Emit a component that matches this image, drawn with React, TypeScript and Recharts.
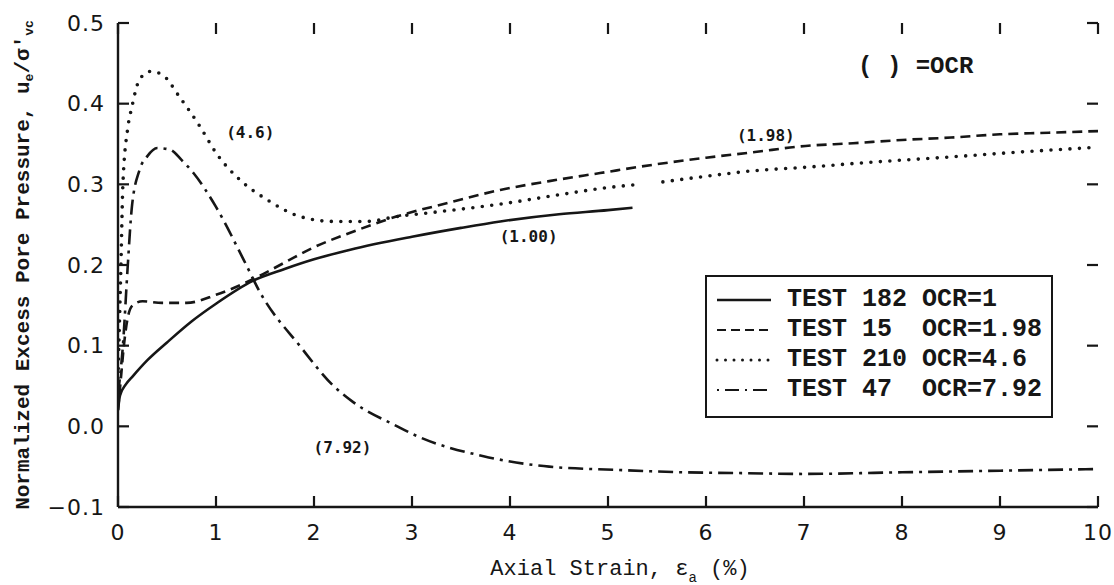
import React from 'react';
import { ComposedChart, Line, XAxis, YAxis, Legend, ReferenceDot, ReferenceLine } from 'recharts';

// ---------- axis ticks ----------
const xTicks = [0, 1, 2, 3, 4, 5, 6, 7, 8, 9, 10];
const yTicks = [-0.1, 0, 0.1, 0.2, 0.3, 0.4, 0.5];

// ---------- series: axial strain (%) and normalized excess pore pressure ----------
const test182Strain = [0, 0.02, 0.08, 0.15, 0.3, 0.5, 0.75, 1.0, 1.37, 1.7, 2.0, 2.37, 3.0, 3.5, 3.9, 4.5, 5.0, 5.25];
const test182Pu = [0.02, 0.038, 0.052, 0.062, 0.082, 0.104, 0.13, 0.152, 0.18, 0.195, 0.207, 0.219, 0.235, 0.246, 0.254, 0.263, 0.268, 0.271];

const test15Strain = [0, 0.03, 0.06, 0.1, 0.15, 0.25, 0.45, 0.7, 1.0, 1.37, 1.7, 2.0, 2.37, 2.84, 3.4, 3.9, 4.4, 4.92, 5.5, 6.0, 6.5, 6.96, 7.5, 8.0, 8.5, 9.0, 9.5, 10.0];
const test15Pu = [0.02, 0.06, 0.1, 0.135, 0.15, 0.155, 0.153, 0.153, 0.163, 0.182, 0.203, 0.222, 0.24, 0.26, 0.278, 0.293, 0.304, 0.314, 0.325, 0.333, 0.34, 0.347, 0.351, 0.355, 0.358, 0.362, 0.364, 0.366];

const test210Strain = [0, 0.03, 0.05, 0.1, 0.14, 0.22, 0.33, 0.45, 0.63, 0.84, 1.0, 1.24, 1.52, 1.86, 2.2, 2.54, 2.84, 3.2, 3.93, 4.5, 5.0, 5.33, 5.45, 5.56, 6.0, 6.5, 7.0, 7.64, 8.5, 9.2, 10.0];
const test210Pu = [0.06, 0.2, 0.3, 0.37, 0.395, 0.43, 0.44, 0.436, 0.408, 0.371, 0.339, 0.306, 0.281, 0.26, 0.254, 0.254, 0.26, 0.265, 0.276, 0.287, 0.296, 0.3, null, 0.303, 0.31, 0.317, 0.321, 0.327, 0.334, 0.34, 0.346];

const test47Strain = [0, 0.05, 0.1, 0.14, 0.22, 0.3, 0.4, 0.53, 0.65, 0.77, 1.0, 1.28, 1.45, 1.86, 2.2, 2.4, 2.85, 3.05, 3.73, 4.4, 5.09, 5.77, 6.38, 7.0, 8.0, 9.0, 10.0];
const test47Pu = [0.04, 0.1, 0.2, 0.27, 0.318, 0.335, 0.345, 0.343, 0.33, 0.314, 0.272, 0.207, 0.166, 0.099, 0.05, 0.03, 0.0, -0.012, -0.037, -0.05, -0.054, -0.057, -0.058, -0.059, -0.057, -0.055, -0.053];

// ---------- legend / annotation text ----------
const seriesNames = ['TEST 182 OCR=1', 'TEST 15  OCR=1.98', 'TEST 210 OCR=4.6', 'TEST 47  OCR=7.92'];
const annotations = [
  { x: 1.35, y: 0.364, text: '(4.6)' },
  { x: 6.61, y: 0.361, text: '(1.98)' },
  { x: 4.19, y: 0.235, text: '(1.00)' },
  { x: 2.29, y: -0.026, text: '(7.92)' },
];
const ocrNote = { x: 8.14, y: 0.446, text: '( ) =OCR' };

const zip = (xs: number[], ys: (number | null)[]) => xs.map((x, i) => ({ x, y: ys[i] }));

const INK = '#161616';
const X_MIN = 0, X_MAX = 10, Y_MIN = -0.1, Y_MAX = 0.5;

const series = [
  { name: seriesNames[0], data: zip(test182Strain, test182Pu), dash: undefined as string | undefined, width: 2.6, cap: 'butt' },
  { name: seriesNames[1], data: zip(test15Strain, test15Pu), dash: '10 6', width: 2.6, cap: 'butt' },
  { name: seriesNames[2], data: zip(test210Strain, test210Pu), dash: '0 9.5', width: 3.6, cap: 'round' },
  { name: seriesNames[3], data: zip(test47Strain, test47Pu), dash: '15 6 3 6', width: 2.6, cap: 'butt' },
];

const legendSample: Record<string, { dash?: string; width: number; cap: string }> = {
  [seriesNames[0]]: { dash: undefined, width: 2.6, cap: 'butt' },
  [seriesNames[1]]: { dash: '9 5', width: 2.2, cap: 'butt' },
  [seriesNames[2]]: { dash: '0 8.5', width: 3, cap: 'round' },
  [seriesNames[3]]: { dash: '2 6 14 6', width: 2.2, cap: 'butt' },
};

const fmtY = (v: number) => v.toFixed(1).replace('-', '\u2212');

const TICK_LEN = 11;
const TICK_W = 2.2;
const tickFont = { fontFamily: 'DejaVu Sans', fontSize: 22, fill: INK, letterSpacing: 1 };

// inward tick marks at both ends of a full-height / full-width reference line
const VerticalTickPair = (p: any) => {
  const x = p.x1 as number;
  const top = Math.min(p.y1, p.y2);
  const bottom = Math.max(p.y1, p.y2);
  return (
    <g>
      <rect x={x - TICK_W / 2} y={top} width={TICK_W} height={TICK_LEN} fill={INK} />
      <rect x={x - TICK_W / 2} y={bottom - TICK_LEN} width={TICK_W} height={TICK_LEN} fill={INK} />
    </g>
  );
};

const HorizontalTickPair = (p: any) => {
  const y = p.y1 as number;
  const left = Math.min(p.x1, p.x2);
  const right = Math.max(p.x1, p.x2);
  return (
    <g>
      <rect x={left} y={y - TICK_W / 2} width={TICK_LEN} height={TICK_W} fill={INK} />
      <rect x={right - TICK_LEN} y={y - TICK_W / 2} width={TICK_LEN} height={TICK_W} fill={INK} />
    </g>
  );
};

const YTitle = (props: any) => {
  const vb = props.viewBox || { x: 0, y: 23, width: 118, height: 484 };
  const cx = vb.x + 23;
  const cy = vb.y + vb.height / 2;
  return (
    <text
      x={cx}
      y={cy}
      transform={`rotate(-90, ${cx}, ${cy})`}
      textAnchor="middle"
      dominantBaseline="central"
      fontFamily="Liberation Mono"
      fontWeight="bold"
      fontSize={21}
      fill={INK}
    >
      Normalized Excess Pore Pressure, u
      <tspan dy={6} fontSize={13}>e</tspan>
      <tspan dy={-6}>/σ'</tspan>
      <tspan dy={6} fontSize={13}>vc</tspan>
    </text>
  );
};

const XTitle = (props: any) => {
  const vb = props.viewBox || { x: 118, y: 507, width: 980, height: 78 };
  const cx = vb.x + vb.width / 2 + 12;
  const cy = vb.y + 68;
  return (
    <text x={cx} y={cy} textAnchor="middle" fontFamily="Liberation Mono" fontSize={22} fill={INK}>
      Axial Strain, ε
      <tspan dy={7} fontSize={14}>a</tspan>
      <tspan dy={-7}>{'\u00A0(%)'}</tspan>
    </text>
  );
};

const LegendBox = () => (
  <div
    style={{
      width: 348,
      height: 143,
      boxSizing: 'border-box',
      border: `2px solid ${INK}`,
      background: '#fff',
      paddingTop: 8,
    }}
  >
    {seriesNames.map((name) => {
      const s = legendSample[name];
      return (
        <div key={name} style={{ display: 'flex', alignItems: 'center', height: 30 }}>
          <svg width={72} height={12} style={{ marginLeft: 8 }}>
            <line
              x1={2}
              y1={6}
              x2={56}
              y2={6}
              stroke={INK}
              strokeWidth={s.width}
              strokeDasharray={s.dash}
              strokeLinecap={s.cap as any}
            />
          </svg>
          <span
            style={{
              fontFamily: 'Liberation Mono',
              fontWeight: 'bold',
              fontSize: 25,
              color: INK,
              whiteSpace: 'pre',
              lineHeight: '30px',
            }}
          >
            {name}
          </span>
        </div>
      );
    })}
  </div>
);

const annoLabel = (text: string, size: number, family: string, weight: string) => (props: any) => {
  const vb = props.viewBox || {};
  const x = vb.cx ?? (vb.x ?? 0) + (vb.width ?? 0) / 2;
  const y = vb.cy ?? (vb.y ?? 0) + (vb.height ?? 0) / 2;
  return (
    <text
      x={x}
      y={y}
      textAnchor="middle"
      dominantBaseline="central"
      fontFamily={family}
      fontWeight={weight}
      fontSize={size}
      fill={INK}
      style={{ whiteSpace: 'pre' }}
    >
      {text}
    </text>
  );
};

export default function App() {
  const axisLine = { stroke: INK, strokeWidth: 2.4 };
  return (
    <div style={{ position: 'absolute', left: 0, top: 0, width: 1114, height: 585, background: '#fff' }}>
      <ComposedChart width={1114} height={585} margin={{ top: 23, right: 16, bottom: 0, left: 0 }}>
        <XAxis
          xAxisId={0}
          type="number"
          dataKey="x"
          domain={[X_MIN, X_MAX]}
          ticks={xTicks}
          interval={0}
          allowDataOverflow
          height={78}
          tickSize={0}
          tickMargin={17}
          tickLine={false}
          tick={tickFont}
          axisLine={axisLine}
          label={<XTitle />}
        />
        <XAxis
          xAxisId="top"
          orientation="top"
          type="number"
          dataKey="x"
          domain={[X_MIN, X_MAX]}
          ticks={xTicks}
          allowDataOverflow
          height={0}
          tickLine={false}
          tick={false}
          axisLine={axisLine}
        />
        <YAxis
          yAxisId={0}
          type="number"
          dataKey="y"
          domain={[Y_MIN, Y_MAX]}
          ticks={yTicks}
          interval={0}
          allowDataOverflow
          width={118}
          tickSize={0}
          tickMargin={13}
          tickLine={false}
          tick={tickFont}
          tickFormatter={fmtY}
          axisLine={axisLine}
          label={<YTitle />}
        />
        <YAxis
          yAxisId="right"
          orientation="right"
          type="number"
          dataKey="y"
          domain={[Y_MIN, Y_MAX]}
          ticks={yTicks}
          allowDataOverflow
          width={0}
          tickLine={false}
          tick={false}
          axisLine={axisLine}
        />
        {xTicks.map((t) => (
          <ReferenceLine key={`vx${t}`} x={t} xAxisId={0} yAxisId={0} ifOverflow="visible" shape={VerticalTickPair} />
        ))}
        {yTicks.map((t) => (
          <ReferenceLine key={`hy${t}`} y={t} xAxisId={0} yAxisId={0} ifOverflow="visible" shape={HorizontalTickPair} />
        ))}
        {series.map((s) => (
          <Line
            key={s.name}
            name={s.name}
            data={s.data}
            dataKey="y"
            xAxisId={0}
            yAxisId={0}
            type="monotone"
            stroke={INK}
            strokeWidth={s.width}
            strokeDasharray={s.dash}
            strokeLinecap={s.cap as any}
            dot={false}
            activeDot={false}
            connectNulls={false}
            isAnimationActive={false}
          />
        ))}
        {annotations.map((a) => (
          <ReferenceDot
            key={a.text}
            x={a.x}
            y={a.y}
            xAxisId={0}
            yAxisId={0}
            r={0}
            stroke="none"
            fill="none"
            label={annoLabel(a.text, 16, 'DejaVu Sans Mono', 'bold')}
          />
        ))}
        <ReferenceDot
          x={ocrNote.x}
          y={ocrNote.y}
          xAxisId={0}
          yAxisId={0}
          r={0}
          stroke="none"
          fill="none"
          label={annoLabel(ocrNote.text, 24, 'Liberation Mono', 'bold')}
        />
        <Legend
          layout="horizontal"
          verticalAlign="middle"
          align="center"
          content={<LegendBox />}
          wrapperStyle={{ position: 'absolute', left: 705, top: 275, width: 348, height: 143 }}
        />
      </ComposedChart>
    </div>
  );
}
